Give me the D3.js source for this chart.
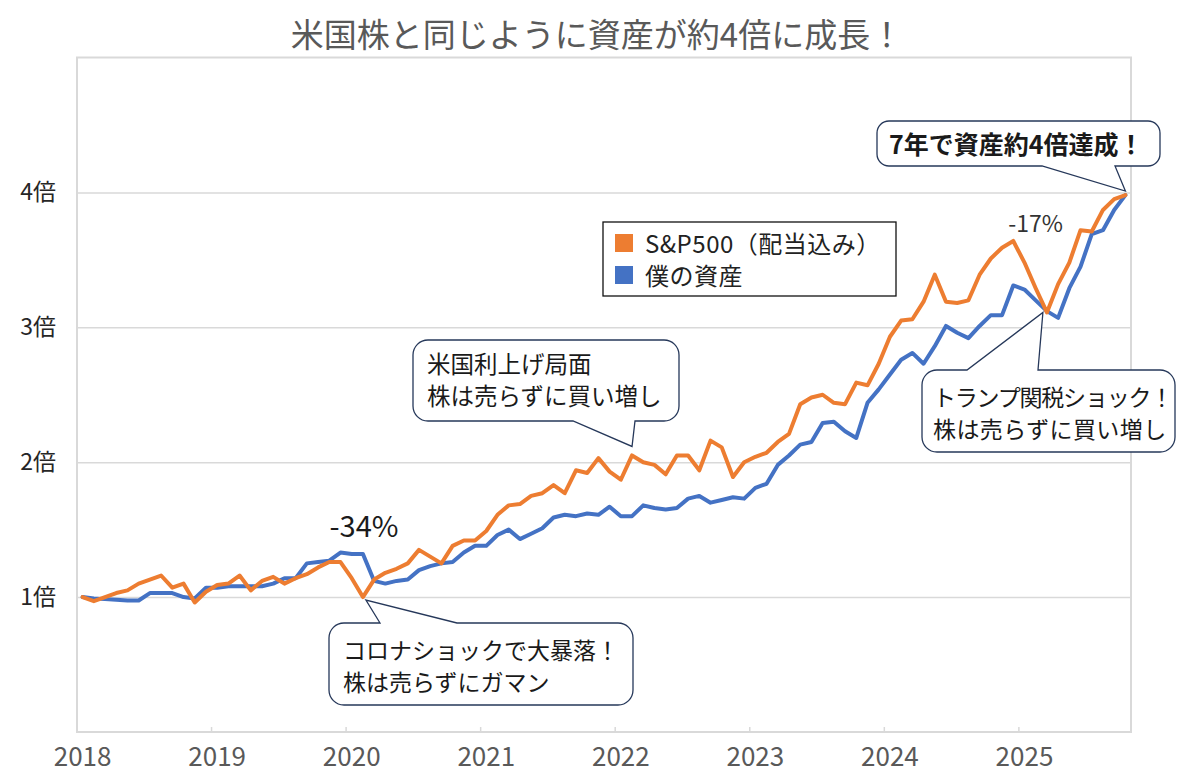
<!DOCTYPE html>
<html>
<head>
<meta charset="utf-8">
<script src="https://cdn.jsdelivr.net/npm/d3@7"></script>
<style>
  body { margin: 0; background: #fff; }
  svg { font-family: "Noto Sans CJK JP", "Noto Sans", sans-serif; }
</style>
</head>
<body>
<script>
// monthly values, Jan 2018 - Oct 2025 (1 = start)
const sp500 = [
  1.00, 0.97, 1.00, 1.03, 1.05, 1.10, 1.13, 1.16, 1.07, 1.10, 0.96, 1.04,
  1.09, 1.10, 1.16, 1.05, 1.12, 1.15, 1.10, 1.14, 1.17, 1.22, 1.26, 1.26,
  1.14, 1.00, 1.13, 1.18, 1.21, 1.25, 1.35, 1.30, 1.25, 1.38, 1.42, 1.42,
  1.49, 1.61, 1.68, 1.69, 1.75, 1.77, 1.83, 1.77, 1.94, 1.92, 2.03, 1.93,
  1.87, 2.05, 2.00, 1.98, 1.91, 2.05, 2.05, 1.94, 2.16, 2.11, 1.89, 2.00,
  2.04, 2.07, 2.15, 2.21, 2.43, 2.48, 2.50, 2.44, 2.43, 2.59, 2.57, 2.73,
  2.93, 3.05, 3.06, 3.19, 3.39, 3.19, 3.18, 3.20, 3.39, 3.51, 3.59, 3.64,
  3.48, 3.29, 3.11, 3.32, 3.48, 3.72, 3.71, 3.87, 3.95, 3.98
];
const myAssets = [
  1.00, 0.99, 0.985, 0.98, 0.975, 0.975, 1.03, 1.03, 1.03, 1.00, 0.99, 1.07,
  1.07, 1.08, 1.08, 1.08, 1.08, 1.10, 1.14, 1.14, 1.25, 1.26, 1.27, 1.33,
  1.32, 1.32, 1.12, 1.10, 1.12, 1.13, 1.20, 1.23, 1.25, 1.26, 1.33, 1.38,
  1.38, 1.46, 1.50, 1.43, 1.47, 1.51, 1.59, 1.61, 1.60, 1.62, 1.61, 1.67,
  1.60, 1.60, 1.68, 1.66, 1.65, 1.66, 1.73, 1.75, 1.70, 1.72, 1.74, 1.73,
  1.81, 1.84, 1.98, 2.05, 2.13, 2.15, 2.29, 2.30, 2.23, 2.18, 2.44, 2.54,
  2.65, 2.76, 2.81, 2.73, 2.86, 3.01, 2.96, 2.92, 3.01, 3.09, 3.09, 3.31,
  3.28, 3.20, 3.12, 3.07, 3.29, 3.45, 3.69, 3.72, 3.87, 3.98
];
const seriesNames = ["S&P500（配当込み）", "僕の資産"];
const yTicks = [1, 2, 3, 4];
const titleText = "米国株と同じように資産が約4倍に成長！";

const months = d3.timeMonth.range(new Date(2018, 0, 1), new Date(2025, 10, 1));
const yearStarts = months.filter(m => m.getMonth() === 0);

const W = 1200, H = 776;
const plotL = 77, plotR = 1131, plotT = 57.5, plotB = 732;
const orange = "#ED7D31", blue = "#4472C4";
const grid = "#d9d9d9";

const svg = d3.select("body").append("svg")
  .attr("width", W).attr("height", H);

const x = d3.scaleBand().domain(months).range([plotL, plotR]);
const cx = d => x(d) + x.bandwidth() / 2;
const y = d3.scaleLinear().domain([0, 5]).range([plotB, plotT]);

// title
svg.append("text")
  .attr("x", 597).attr("y", 47)
  .attr("text-anchor", "middle")
  .attr("font-size", 33)
  .attr("fill", "#595959")
  .text(titleText);

// gridlines
svg.append("g")
  .attr("transform", `translate(${plotL},0)`)
  .call(d3.axisLeft(y).tickValues(yTicks).tickSize(-(plotR - plotL)).tickFormat(""))
  .call(g => g.select(".domain").remove())
  .selectAll("line").attr("stroke", grid).attr("stroke-width", 1.5);

// y labels
svg.append("g")
  .attr("transform", `translate(${plotL},0)`)
  .call(d3.axisLeft(y).tickValues(yTicks).tickSize(0).tickPadding(21).tickFormat(d => d + "倍"))
  .call(g => g.select(".domain").remove())
  .selectAll("text")
  .attr("font-size", 23)
  .attr("font-family", "'Noto Sans CJK JP', sans-serif")
  .attr("fill", "#262626");

// plot border
svg.append("rect")
  .attr("x", plotL).attr("y", plotT)
  .attr("width", plotR - plotL).attr("height", plotB - plotT)
  .attr("fill", "none").attr("stroke", grid).attr("stroke-width", 2);

// year tick marks at boundaries
svg.append("g").selectAll("line")
  .data(yearStarts.slice(1))
  .join("line")
  .attr("x1", d => x(d)).attr("x2", d => x(d))
  .attr("y1", plotB).attr("y2", plotB - 5)
  .attr("stroke", grid).attr("stroke-width", 1.5);

// x labels
svg.append("g")
  .attr("transform", `translate(0,${plotB})`)
  .call(d3.axisBottom(x).tickValues(yearStarts).tickSize(0).tickPadding(16)
    .tickFormat(d3.timeFormat("%Y")))
  .call(g => g.select(".domain").remove())
  .selectAll("text")
  .attr("font-size", 26)
  .attr("font-family", "'Noto Sans CJK JP', sans-serif")
  .attr("fill", "#595959");

// lines
const line = d3.line()
  .x((d, i) => cx(months[i]))
  .y(d => y(d));

svg.append("path").datum(myAssets)
  .attr("fill", "none").attr("stroke", blue).attr("stroke-width", 4)
  .attr("stroke-linejoin", "round").attr("stroke-linecap", "round")
  .attr("d", line);

svg.append("path").datum(sp500)
  .attr("fill", "none").attr("stroke", orange).attr("stroke-width", 4)
  .attr("stroke-linejoin", "round").attr("stroke-linecap", "round")
  .attr("d", line);

// legend
const lg = svg.append("g");
lg.append("rect")
  .attr("x", 603).attr("y", 222).attr("width", 293).attr("height", 74)
  .attr("fill", "#fff").attr("stroke", "#111").attr("stroke-width", 1.3);
[orange, blue].forEach((c, i) => {
  lg.append("rect")
    .attr("x", 615).attr("y", 234 + i * 32).attr("width", 18).attr("height", 18)
    .attr("fill", c);
  lg.append("text")
    .attr("x", 645).attr("y", 253 + i * 32)
    .attr("font-size", 24).attr("letter-spacing", 0.5).attr("fill", "#222")
    .text(seriesNames[i]);
});

// callouts
function callout(box, side, base, tip) {
  const [x0, y0, w, h, r] = box;
  const x1 = x0 + w, y1 = y0 + h;
  let p = `M${x0 + r},${y0}`;
  if (side === "top") p += `L${base[0]},${y0}L${tip[0]},${tip[1]}L${base[1]},${y0}`;
  p += `L${x1 - r},${y0}A${r},${r} 0 0 1 ${x1},${y0 + r}L${x1},${y1 - r}A${r},${r} 0 0 1 ${x1 - r},${y1}`;
  if (side === "bottom") p += `L${base[1]},${y1}L${tip[0]},${tip[1]}L${base[0]},${y1}`;
  p += `L${x0 + r},${y1}A${r},${r} 0 0 1 ${x0},${y1 - r}L${x0},${y0 + r}A${r},${r} 0 0 1 ${x0 + r},${y0}Z`;
  svg.append("path").attr("d", p)
    .attr("fill", "#fff").attr("stroke", "#26385a").attr("stroke-width", 1.3);
}

function lines(x0, y0, list, size, weight, spacing) {
  list.forEach((t, i) => {
    svg.append("text")
      .attr("x", x0).attr("y", y0 + i * 32)
      .attr("font-size", size).attr("font-weight", weight || "normal")
      .attr("letter-spacing", spacing ? spacing[i] : 0)
      .attr("fill", "#1a1a1a")
      .text(t);
  });
}

// コロナ
callout([329, 623, 304, 82, 15], "top", [380, 457],
  [cx(months[25]) + 3, y(sp500[25]) + 3]);
lines(343, 659, ["コロナショックで大暴落！", "株は売らずにガマン"], 23);

// 利上げ
callout([413, 340, 266, 81, 15], "bottom", [573, 635],
  [cx(months[49]), y(sp500[49]) - 9]);
lines(427, 373, ["米国利上げ局面", "株は売らずに買い増し"], 23.5);

// 関税
callout([922, 370, 253, 82, 15], "top", [967, 1038],
  [cx(months[86]) - 4, y(sp500[86])]);
lines(933, 406, ["トランプ関税ショック！", "株は売らずに買い増し"], 23, "normal", [-1.2, 0.4]);

// 4倍
callout([877, 121, 283, 45, 12], "bottom", [1042, 1115],
  [cx(months[93]), y(sp500[93]) - 4]);
lines(889, 154, ["7年で資産約4倍達成！"], 25, "bold");

// drawdown labels
svg.append("text")
  .attr("x", 364).attr("y", 537)
  .attr("text-anchor", "middle").attr("font-size", 29).attr("fill", "#1a1a1a")
  .text("-34%");
svg.append("text")
  .attr("x", cx(months[85])).attr("y", 232)
  .attr("text-anchor", "middle").attr("font-size", 23).attr("fill", "#333")
  .text("-17%");
</script>
</body>
</html>
